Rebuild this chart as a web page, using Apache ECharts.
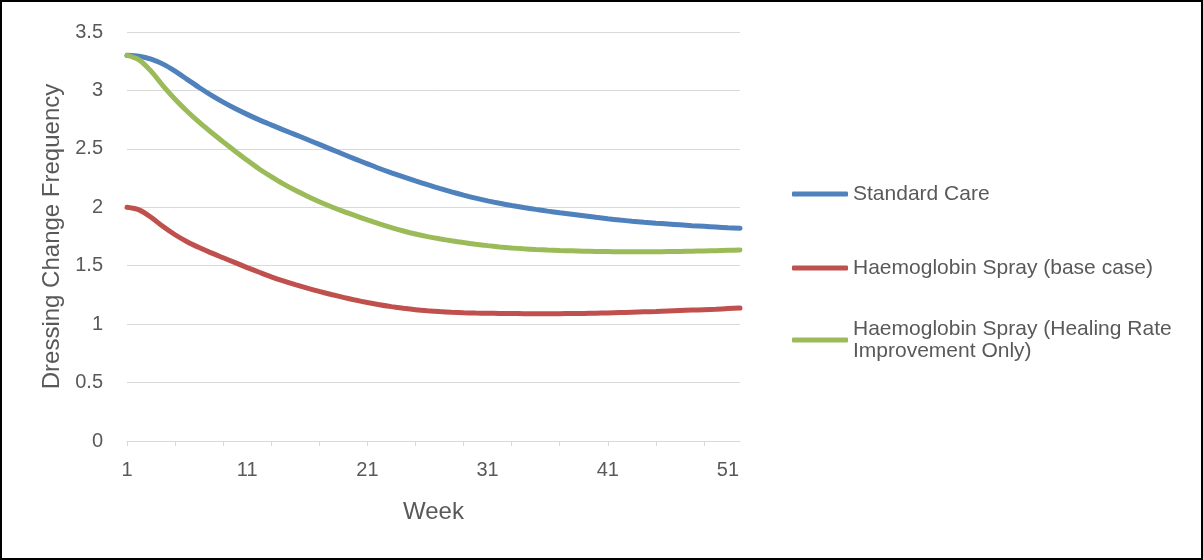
<!DOCTYPE html>
<html>
<head>
<meta charset="utf-8">
<script src="https://cdn.jsdelivr.net/npm/echarts@6/dist/echarts.min.js"></script>
<style>
  html, body { margin: 0; padding: 0; background: #fff; }
  #frame { width: 1203px; height: 560px; box-sizing: border-box; border: 2px solid #000; background: #fff; }
  #chart { width: 1199px; height: 556px; }
</style>
</head>
<body>
<div id="frame"><div id="chart"></div></div>
<script>
// Weeks on the horizontal axis
const weeks = ['1','2','3','4','5','6','7','8','9','10','11','12','13','14','15','16','17','18','19','20',
  '21','22','23','24','25','26','27','28','29','30','31','32','33','34','35','36','37','38','39','40',
  '41','42','43','44','45','46','47','48','49','50','51','52'];

// Dressing change frequency per week, by scenario
const standardCare = [3.300,3.292,3.268,3.225,3.165,3.095,3.025,2.960,2.900,2.845,2.795,2.748,2.705,2.663,2.622,2.580,2.538,2.496,2.454,2.412,
  2.372,2.332,2.295,2.260,2.226,2.193,2.162,2.132,2.104,2.078,2.055,2.034,2.015,1.998,1.982,1.967,1.953,1.940,1.927,1.914,
  1.902,1.891,1.881,1.872,1.864,1.857,1.850,1.843,1.837,1.831,1.825,1.820];
const sprayBase = [2.000,1.978,1.915,1.835,1.765,1.705,1.655,1.610,1.568,1.526,1.484,1.444,1.405,1.370,1.338,1.308,1.280,1.254,1.229,1.206,
  1.185,1.166,1.150,1.136,1.124,1.115,1.108,1.102,1.098,1.095,1.093,1.092,1.091,1.090,1.090,1.090,1.090,1.091,1.092,1.094,
  1.096,1.099,1.102,1.105,1.108,1.112,1.116,1.120,1.124,1.128,1.133,1.138];
const sprayHealing = [3.300,3.262,3.165,3.040,2.925,2.822,2.728,2.642,2.560,2.480,2.402,2.328,2.262,2.200,2.145,2.095,2.048,2.005,1.965,1.928,
  1.892,1.858,1.826,1.797,1.771,1.749,1.730,1.713,1.698,1.684,1.672,1.661,1.652,1.645,1.639,1.634,1.630,1.627,1.624,1.622,
  1.621,1.620,1.620,1.620,1.620,1.621,1.622,1.624,1.626,1.629,1.632,1.635];

const seriesNames = ['Standard Care', 'Haemoglobin Spray (base case)', 'Haemoglobin Spray (Healing Rate Improvement Only)'];
const colors = ['#4F81BD', '#C0504D', '#9BBB59'];

const FONT = '"Liberation Sans", Arial, sans-serif';
const TEXT = '#595959';
const GRID = '#D9D9D9';

const chart = echarts.init(document.getElementById('chart'), null, { renderer: 'canvas' });

// One legend block per series so each entry sits at its own height
function legendBlock(name, top, extra) {
  return Object.assign({
    data: [name],
    orient: 'vertical',
    left: 785,
    top: top,
    icon: 'roundRect',
    itemWidth: 56,
    itemHeight: 5,
    selectedMode: false,
    textStyle: { fontFamily: FONT, fontSize: 21, color: TEXT, lineHeight: 22 }
  }, extra || {});
}

chart.setOption({
  animation: false,
  backgroundColor: '#fff',
  color: colors,
  grid: { left: 125, right: 461, top: 30, bottom: 117, containLabel: false },
  legend: [
    legendBlock(seriesNames[0], 176),
    legendBlock(seriesNames[1], 250),
    legendBlock(seriesNames[2], 300, {
      formatter: function () { return 'Haemoglobin Spray (Healing Rate\nImprovement Only)'; },
      textStyle: { fontFamily: FONT, fontSize: 21, color: TEXT, lineHeight: 22, padding: [22, 0, 0, 0] }
    })
  ],
  xAxis: {
    type: 'category',
    data: weeks,
    boundaryGap: false,
    name: 'Week',
    nameLocation: 'middle',
    nameGap: 59,
    nameTextStyle: { fontFamily: FONT, fontSize: 24, color: TEXT },
    axisLine: { lineStyle: { color: GRID, width: 1 } },
    axisTick: { show: true, interval: 3, length: 5, lineStyle: { color: GRID } },
    axisLabel: { interval: 9, margin: 19, fontFamily: FONT, fontSize: 20, color: TEXT },
    splitLine: { show: false }
  },
  yAxis: {
    type: 'value',
    min: 0,
    max: 3.5,
    interval: 0.5,
    name: 'Dressing Change Frequency',
    nameLocation: 'middle',
    nameGap: 63,
    nameTextStyle: { fontFamily: FONT, fontSize: 24, color: TEXT },
    axisLine: { show: false },
    axisTick: { show: false },
    axisLabel: { margin: 24, fontFamily: FONT, fontSize: 20, color: TEXT },
    splitLine: { lineStyle: { color: GRID, width: 1 } }
  },
  series: [
    { name: seriesNames[0], type: 'line', data: standardCare, smooth: 0.3, showSymbol: false, symbol: 'none',
      lineStyle: { width: 5, color: colors[0], cap: 'round' } },
    { name: seriesNames[1], type: 'line', data: sprayBase, smooth: 0.3, showSymbol: false, symbol: 'none',
      lineStyle: { width: 5, color: colors[1], cap: 'round' } },
    { name: seriesNames[2], type: 'line', data: sprayHealing, smooth: 0.3, showSymbol: false, symbol: 'none',
      lineStyle: { width: 5, color: colors[2], cap: 'round' } }
  ]
});
</script>
</body>
</html>
